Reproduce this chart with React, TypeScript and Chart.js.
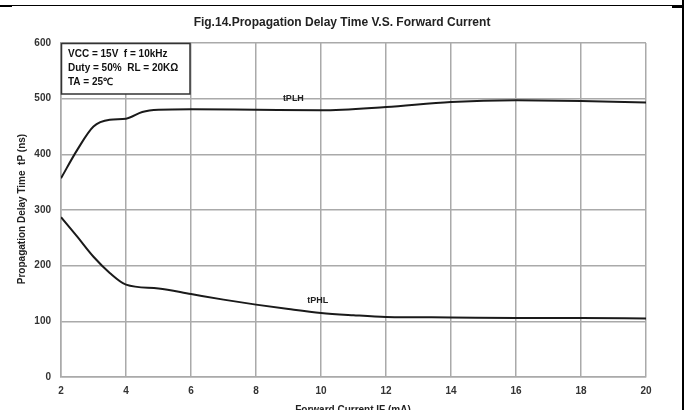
import React, { useEffect, useRef } from "react";
import { Chart, registerables } from "chart.js";

Chart.register(...registerables);

const titleText = "Fig.14.Propagation Delay Time V.S. Forward Current";
const xTitle = "Forward Current IF (mA)";
const yTitle = "Propagation Delay Time  tP (ns)";
const conditionLines = ["VCC = 15V  f = 10kHz", "Duty = 50%  RL = 20KΩ", "TA = 25℃"];

const tplhX = [2, 2.5, 3, 3.5, 4, 4.5, 5, 6, 8, 10, 12, 14, 16, 18, 20];
const tplhY = [357, 408, 450, 462, 464, 476, 480, 481, 480, 479, 485, 494, 497, 496, 493];
const tphlX = [2, 2.5, 3, 3.5, 4, 5, 6, 7, 8, 9, 10, 11, 12, 14, 16, 18, 20];
const tphlY = [287, 252, 216, 187, 166, 159, 149, 139, 130, 122, 115, 111, 108, 107, 106, 106, 105];

const FONT = "'Liberation Sans', Arial, sans-serif";

const decorPlugin = {
  id: "decor",
  afterDraw(chart: any) {
    const ctx = chart.ctx;
    const xs = chart.scales.x;
    const ys = chart.scales.y;
    ctx.save();
    // frame lines
    ctx.fillStyle = "#000";
    ctx.fillRect(0, 5, 683, 1);
    ctx.fillRect(0, 5, 12, 2);
    ctx.fillRect(672, 6, 12, 2);
    ctx.fillRect(682, 0, 2, 410);
    // title
    ctx.fillStyle = "#222";
    ctx.font = `bold 12px ${FONT}`;
    ctx.textAlign = "center";
    ctx.textBaseline = "middle";
    ctx.fillText(titleText, 342, 23);
    // x title
    ctx.font = `bold 10px ${FONT}`;
    ctx.fillText(xTitle, 353, 410);
    // y title
    ctx.save();
    ctx.translate(22, 209);
    ctx.rotate(-Math.PI / 2);
    ctx.fillText(yTitle, 0, 0);
    ctx.restore();
    // condition box
    const bx = xs.getPixelForValue(2);
    const by = ys.getPixelForValue(600);
    ctx.fillStyle = "#fff";
    ctx.fillRect(bx, by, 129, 51);
    ctx.strokeStyle = "#333";
    ctx.lineWidth = 1.5;
    ctx.strokeRect(bx + 0.5, by + 0.5, 128.5, 50.5);
    ctx.fillStyle = "#111";
    ctx.font = `bold 10px ${FONT}`;
    ctx.textAlign = "left";
    conditionLines.forEach((t, i) => ctx.fillText(t, bx + 7, by + 11 + i * 14));
    // curve labels
    ctx.textAlign = "center";
    ctx.font = `bold 9px ${FONT}`;
    ctx.fillStyle = "#222";
    ctx.fillText("tPLH", xs.getPixelForValue(9.15), ys.getPixelForValue(500));
    ctx.fillText("tPHL", xs.getPixelForValue(9.9), ys.getPixelForValue(137));
    ctx.restore();
  },
};

export default function App() {
  const ref = useRef<HTMLCanvasElement | null>(null);
  useEffect(() => {
    if (!ref.current) return;
    const mk = (xsArr: number[], ysArr: number[]) => xsArr.map((x, i) => ({ x, y: ysArr[i] }));
    const chart = new Chart(ref.current, {
      type: "line",
      data: {
        datasets: [
          {
            label: "tPLH",
            data: mk(tplhX, tplhY),
            borderColor: "#1a1a1a",
            borderWidth: 2,
            pointRadius: 0,
            cubicInterpolationMode: "monotone",
          },
          {
            label: "tPHL",
            data: mk(tphlX, tphlY),
            borderColor: "#1a1a1a",
            borderWidth: 2,
            pointRadius: 0,
            cubicInterpolationMode: "monotone",
          },
        ],
      },
      options: {
        animation: false,
        responsive: false,
        layout: { padding: { left: 0, top: 43, right: 42, bottom: 0 } },
        plugins: { legend: { display: false }, tooltip: { enabled: false }, title: { display: false } },
        scales: {
          x: {
            type: "linear",
            min: 2,
            max: 20,
            ticks: { stepSize: 2, color: "#333", font: { family: FONT, size: 10, weight: "bold" }, padding: 8 },
            grid: { color: "#aaa", lineWidth: 1.5, drawTicks: false },
            border: { color: "#aaa", width: 1.5 },
            afterFit: (s: any) => { s.height = 33; },
          },
          y: {
            min: 0,
            max: 600,
            ticks: { stepSize: 100, color: "#333", font: { family: FONT, size: 10, weight: "bold" }, padding: 10 },
            grid: { color: "#aaa", lineWidth: 1.5, drawTicks: false },
            border: { color: "#aaa", width: 1.5 },
            afterFit: (s: any) => { s.width = 61; },
          },
        },
      },
      plugins: [decorPlugin],
    } as any);
    return () => chart.destroy();
  }, []);
  return (
    <div style={{ position: "fixed", left: 0, top: 0, width: 688, height: 410, background: "#fff" }}>
      <canvas ref={ref} width={688} height={410} style={{ width: 688, height: 410, display: "block" }} />
    </div>
  );
}
